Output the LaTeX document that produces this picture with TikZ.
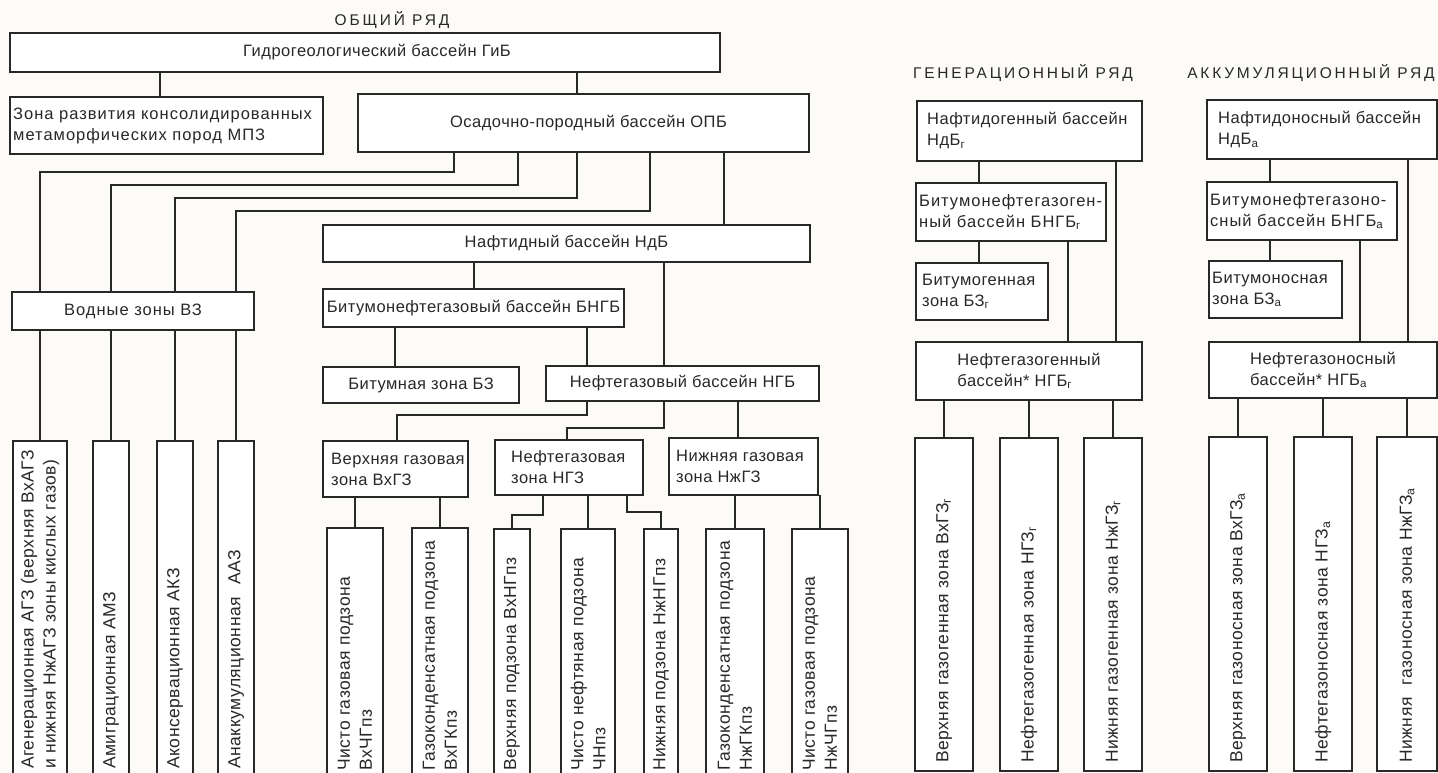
\documentclass[tikz,border=0pt]{standalone}
\usepackage{fontspec}
\setmainfont{Liberation Sans}[LetterSpace=3]
\newfontfamily\ttlfont[LetterSpace=18]{Liberation Sans}
\newfontfamily\widefont[LetterSpace=6]{Liberation Sans}
\definecolor{ink}{RGB}{40,40,40}
\definecolor{paper}{RGB}{252,251,248}
\tikzset{
  box/.style={draw=ink, line width=2pt, inner sep=0pt, outer sep=0pt, fill=white, text=ink,
     font=\fontsize{16.5}{21}\selectfont},
  btext/.style={anchor=west, align=left, inner sep=0pt, text=ink,
     font=\fontsize{16.5}{21}\selectfont},
  wide/.style={font=\widefont\fontsize{16.5}{21}\selectfont},
  vtext/.style={rotate=90, anchor=west, align=left, inner sep=0pt, text=ink,
     font=\fontsize{17.5}{22}\selectfont},
  ttl/.style={text=ink, font=\ttlfont\fontsize{15.5}{18}\selectfont, inner sep=0pt},
  conn/.style={draw=ink, line width=2pt}
}
% centered box: [opts]{name}{x1}{y1}{x2}{y2}{text}
\newcommand\bx[7][]{%
  \pgfmathsetmacro\bxw{#5-#3}\pgfmathsetmacro\bxh{#6-#4}%
  \pgfmathsetmacro\bxcx{(#3+#5)/2}\pgfmathsetmacro\bxcy{(#4+#6)/2}%
  \node[box, minimum width=\bxw pt, minimum height=\bxh pt, #1] (#2) at (\bxcx,\bxcy) {#7};}
% left aligned box: [text opts]{name}{x1}{y1}{x2}{y2}{pad}{text}
\newcommand\lbx[8][]{%
  \pgfmathsetmacro\bxw{#5-#3}\pgfmathsetmacro\bxh{#6-#4}%
  \pgfmathsetmacro\bxcx{(#3+#5)/2}\pgfmathsetmacro\bxcy{(#4+#6)/2}%
  \node[box, minimum width=\bxw pt, minimum height=\bxh pt] (#2) at (\bxcx,\bxcy) {};
  \node[btext, #1] (#2t) at ([xshift=#7pt]#2.west) {#8};}
% vertical box: {name}{x1}{y1}{x2}{y2}{text start offset}{text}
\newcommand\vbx[7]{%
  \pgfmathsetmacro\bxw{#4-#2}\pgfmathsetmacro\bxh{#5-#3}%
  \pgfmathsetmacro\bxcx{(#2+#4)/2}\pgfmathsetmacro\bxcy{(#3+#5)/2}%
  \node[box, minimum width=\bxw pt, minimum height=\bxh pt] (#1) at (\bxcx,\bxcy) {};
  \node[vtext] (#1t) at ([yshift=#6pt]#1.south) {#7};}
\newcommand\sub[1]{\textsubscript{#1}}
\begin{document}
\begin{tikzpicture}[x=1pt,y=-1pt]
\useasboundingbox (0,0) rectangle (1438,773);
\fill[paper] (0,0) rectangle (1438,773);
\clip (0,0) rectangle (1438,773);

% titles
\node[ttl] (t1) at (392,20) {ОБЩИЙ РЯД};
\node[ttl] (t2) at (1023,73) {ГЕНЕРАЦИОННЫЙ РЯД};
\node[ttl] (t3) at (1311,73) {АККУМУЛЯЦИОННЫЙ РЯД};

% ---------- boxes ----------
\bx{GiB}{10}{33}{720}{72}{\hspace*{24pt}Гидрогеологический бассейн ГиБ}
\lbx[wide]{MPZ}{10}{97}{323}{154}{3}{Зона развития консолидированных\\метаморфических пород МПЗ}
\bx{OPB}{358}{94}{809}{152}{\hspace*{10pt}Осадочно-породный бассейн ОПБ}
\bx{NdB}{323}{225}{810}{262}{Нафтидный бассейн НдБ}
\bx[wide]{VZ}{12}{292}{254}{330}{Водные зоны ВЗ}
\bx{BNGB}{323}{289}{624}{327}{Битумонефтегазовый бассейн БНГБ}
\bx{BZ}{323}{367}{519}{403}{Битумная зона БЗ}
\bx{NGB}{546}{366}{819}{401}{Нефтегазовый бассейн НГБ}
\lbx{VxGZ}{323}{441}{468}{497}{8}{Верхняя газовая\\зона ВхГЗ}
\lbx{NGZ}{495}{440}{643}{495}{16}{Нефтегазовая\\зона НГЗ}
\lbx{NzhGZ}{669}{438}{818}{495}{7}{Нижняя газовая\\зона НжГЗ}

\vbx{La}{13}{441}{67}{776}{7}{Агенерационная АГЗ (верхняя ВхАГЗ\\и нижняя НжАГЗ зоны кислых газов)}
\vbx{Lb}{93}{441}{129}{776}{7}{Амиграционная АМЗ}
\vbx{Lc}{157}{441}{193}{776}{7}{Аконсервационная АКЗ}
\vbx{Ld}{218}{441}{254}{776}{7}{Анаккумуляционная\hspace{0.7em}ААЗ}

\vbx{Ma}{327}{528}{383}{776}{5}{Чисто газовая подзона\\ВхЧГпз}
\vbx{Mb}{412}{528}{468}{776}{5}{Газоконденсатная подзона\\ВхГКпз}
\vbx{Mc}{494}{529}{530}{776}{5}{Верхняя подзона ВхНГпз}
\vbx{Md}{561}{529}{615}{776}{5}{Чисто нефтяная подзона\\ЧНпз}
\vbx{Me}{644}{529}{678}{776}{5}{Нижняя подзона НжНГпз}
\vbx{Mf}{706}{529}{764}{776}{5}{Газоконденсатная подзона\\НжГКпз}
\vbx{Mg}{792}{529}{848}{776}{5}{Чисто газовая подзона\\НжЧГпз}

% generation series
\lbx{NdBg}{917}{101}{1142}{161}{10}{Нафтидогенный бассейн\\НдБ\sub{г}}
\lbx[wide]{BNGBg}{916}{183}{1106}{241}{3}{Битумонефтегазоген-\\ный бассейн БНГБ\sub{г}}
\lbx{BZg}{916}{263}{1048}{320}{6}{Битумогенная\\зона БЗ\sub{г}}
\bx[align=left]{NGBg}{916}{342}{1142}{400}{Нефтегазогенный\\бассейн* НГБ\sub{г}}
\vbx{Ga}{915}{438}{973}{771}{8}{Верхняя газогенная зона ВхГЗ\sub{г}}
\vbx{Gb}{1000}{438}{1058}{771}{8}{Нефтегазогенная зона НГЗ\sub{г}}
\vbx{Gc}{1084}{438}{1142}{771}{8}{Нижняя газогенная зона НжГЗ\sub{г}}

% accumulation series
\lbx{NdBa}{1207}{100}{1437}{159}{11}{Нафтидоносный бассейн\\НдБ\sub{а}}
\lbx[wide]{BNGBa}{1207}{182}{1397}{240}{3}{Битумонефтегазоно-\\сный бассейн БНГБ\sub{а}}
\lbx{BZa}{1209}{261}{1342}{318}{3}{Битумоносная\\зона БЗ\sub{а}}
\bx[align=left]{NGBa}{1209}{342}{1437}{398}{Нефтегазоносный\\бассейн* НГБ\sub{а}}
\vbx{Aa}{1209}{437}{1267}{771}{8}{Верхняя газоносная зона ВхГЗ\sub{а}}
\vbx{Ab}{1294}{437}{1352}{771}{8}{Нефтегазоносная зона НГЗ\sub{а}}
\vbx{Ac}{1377}{437}{1437}{771}{8}{Нижняя\hspace{0.4em} газоносная зона НжГЗ\sub{а}}

% ---------- connectors ----------
\draw[conn] (GiB.south -| 160,0) -- (MPZ.north -| 160,0);
\draw[conn] (GiB.south -| 577,0) -- (OPB.north -| 577,0);
\draw[conn] (OPB.south -| 454,0) -- (454,172) -| (VZ.north -| La.north);
\draw[conn] (OPB.south -| 518,0) -- (518,185) -| (VZ.north -| Lb.north);
\draw[conn] (OPB.south -| 577,0) -- (577,198) -| (VZ.north -| Lc.north);
\draw[conn] (OPB.south -| 650,0) -- (650,211) -| (VZ.north -| Ld.north);
\draw[conn] (VZ.south -| La.north) -- (La.north);
\draw[conn] (VZ.south -| Lb.north) -- (Lb.north);
\draw[conn] (VZ.south -| Lc.north) -- (Lc.north);
\draw[conn] (VZ.south -| Ld.north) -- (Ld.north);
\draw[conn] (OPB.south -| 724,0) -- (NdB.north -| 724,0);
\draw[conn] (NdB.south -| 474,0) -- (BNGB.north -| 474,0);
\draw[conn] (NdB.south -| 664,0) -- (NGB.north -| 664,0);
\draw[conn] (BNGB.south -| 395,0) -- (BZ.north -| 395,0);
\draw[conn] (BNGB.south -| 587,0) -- (NGB.north -| 587,0);
\draw[conn] (NGB.south -| 587,0) -- (587,415) -| (VxGZ.north -| 397,0);
\draw[conn] (NGB.south -| 664,0) -- (664,428) -| (NGZ.north -| 567,0);
\draw[conn] (NGB.south -| 738,0) -- (NzhGZ.north -| 738,0);
\draw[conn] (VxGZ.south -| Ma.north) -- (Ma.north);
\draw[conn] (VxGZ.south -| Mb.north) -- (Mb.north);
\draw[conn] (NGZ.south -| 543,0) -- (543,515) -| (Mc.north);
\draw[conn] (NGZ.south -| Md.north) -- (Md.north);
\draw[conn] (NGZ.south -| 627,0) -- (627,512) -| (Me.north);
\draw[conn] (NzhGZ.south -| Mf.north) -- (Mf.north);
\draw[conn] (NzhGZ.south -| Mg.north) -- (Mg.north);

\draw[conn] (NdBg.south -| 979,0) -- (BNGBg.north -| 979,0);
\draw[conn] (NdBg.south -| 1116,0) -- (NGBg.north -| 1116,0);
\draw[conn] (BNGBg.south -| 979,0) -- (BZg.north -| 979,0);
\draw[conn] (BNGBg.south -| 1068,0) -- (NGBg.north -| 1068,0);
\draw[conn] (NGBg.south -| Ga.north) -- (Ga.north);
\draw[conn] (NGBg.south -| Gb.north) -- (Gb.north);
\draw[conn] (NGBg.south -| Gc.north) -- (Gc.north);

\draw[conn] (NdBa.south -| 1270,0) -- (BNGBa.north -| 1270,0);
\draw[conn] (NdBa.south -| 1408,0) -- (NGBa.north -| 1408,0);
\draw[conn] (BNGBa.south -| 1270,0) -- (BZa.north -| 1270,0);
\draw[conn] (BNGBa.south -| 1360,0) -- (NGBa.north -| 1360,0);
\draw[conn] (NGBa.south -| Aa.north) -- (Aa.north);
\draw[conn] (NGBa.south -| Ab.north) -- (Ab.north);
\draw[conn] (NGBa.south -| Ac.north) -- (Ac.north);
\end{tikzpicture}
\end{document}
